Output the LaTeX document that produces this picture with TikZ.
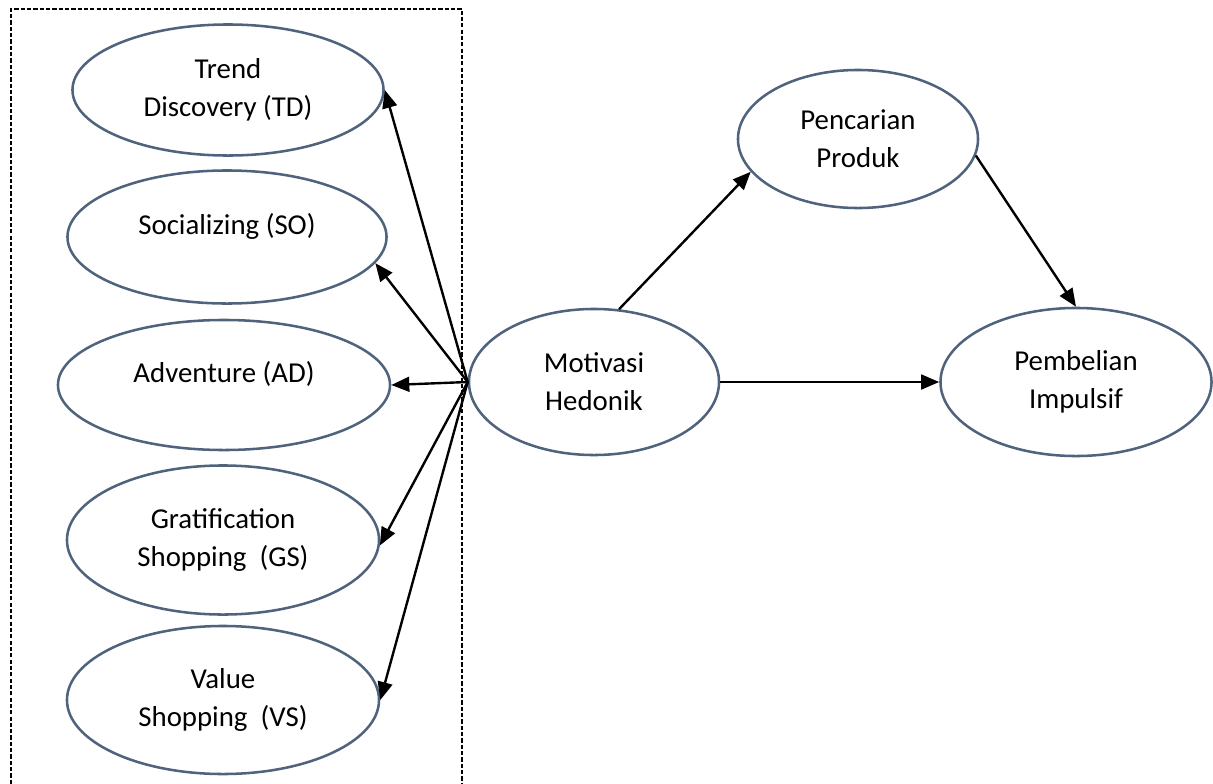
\documentclass[tikz,border=0pt]{standalone}
\usepackage{fontspec}
\setmainfont{Carlito}
\usetikzlibrary{shapes.geometric,arrows.meta}
\definecolor{ovalline}{RGB}{80,99,125}
\tikzset{
  oval/.style={ellipse, draw=ovalline, line width=1.8pt, inner sep=0pt, align=center, font=\fontsize{20.5}{27}\selectfont},
  arr/.style={-{Triangle[length=0.45cm,width=0.37cm]}, line width=1.7pt}
}
\begin{document}
\begin{tikzpicture}[x=0.025cm,y=-0.025cm]
\useasboundingbox (0,0) rectangle (1213,784);
\draw[line width=1.5pt, dash pattern=on 3pt off 1.5pt] (11,784) -- (11,9) -- (462,9) -- (462,784);
\node[oval, minimum width=7.775cm, minimum height=3.275cm] (td) at (228,90){Trend\\Discovery (TD)};
\node[oval, minimum width=7.975cm, minimum height=3.325cm, text depth=0.65cm] (so) at (227,237){Socializing (SO)};
\node[oval, minimum width=8.3cm, minimum height=3.25cm, text depth=0.65cm] (ad) at (224,385){Adventure (AD)};
\node[oval, minimum width=7.8cm, minimum height=3.725cm] (gs) at (223,540){Gratification\\Shopping~ (GS)};
\node[oval, minimum width=7.8cm, minimum height=3.7cm] (vs) at (223,700){Value\\Shopping~ (VS)};
\node[oval, minimum width=6.25cm, minimum height=3.65cm] (mh) at (594,382){Motivasi\\Hedonik};
\node[oval, minimum width=6cm, minimum height=3.45cm] (pp) at (858,139){Pencarian\\Produk};
\node[oval, minimum width=6.775cm, minimum height=3.7cm] (pi) at (1076,382){Pembelian\\Impulsif};
\draw[arr](mh.west) -- (td.east);
\draw[arr](mh.west) -- (so.-10);
\draw[arr](mh.west) -- (ad.east);
\draw[arr](mh.west) -- (gs.-2);
\draw[arr](mh.west) -- (vs.east);
\draw[arr](mh.71) -- (pp.197);
\draw[arr](pp.-8) -- (pi.north);
\draw[arr](mh.east) -- (pi.west);

\end{tikzpicture}
\end{document}
